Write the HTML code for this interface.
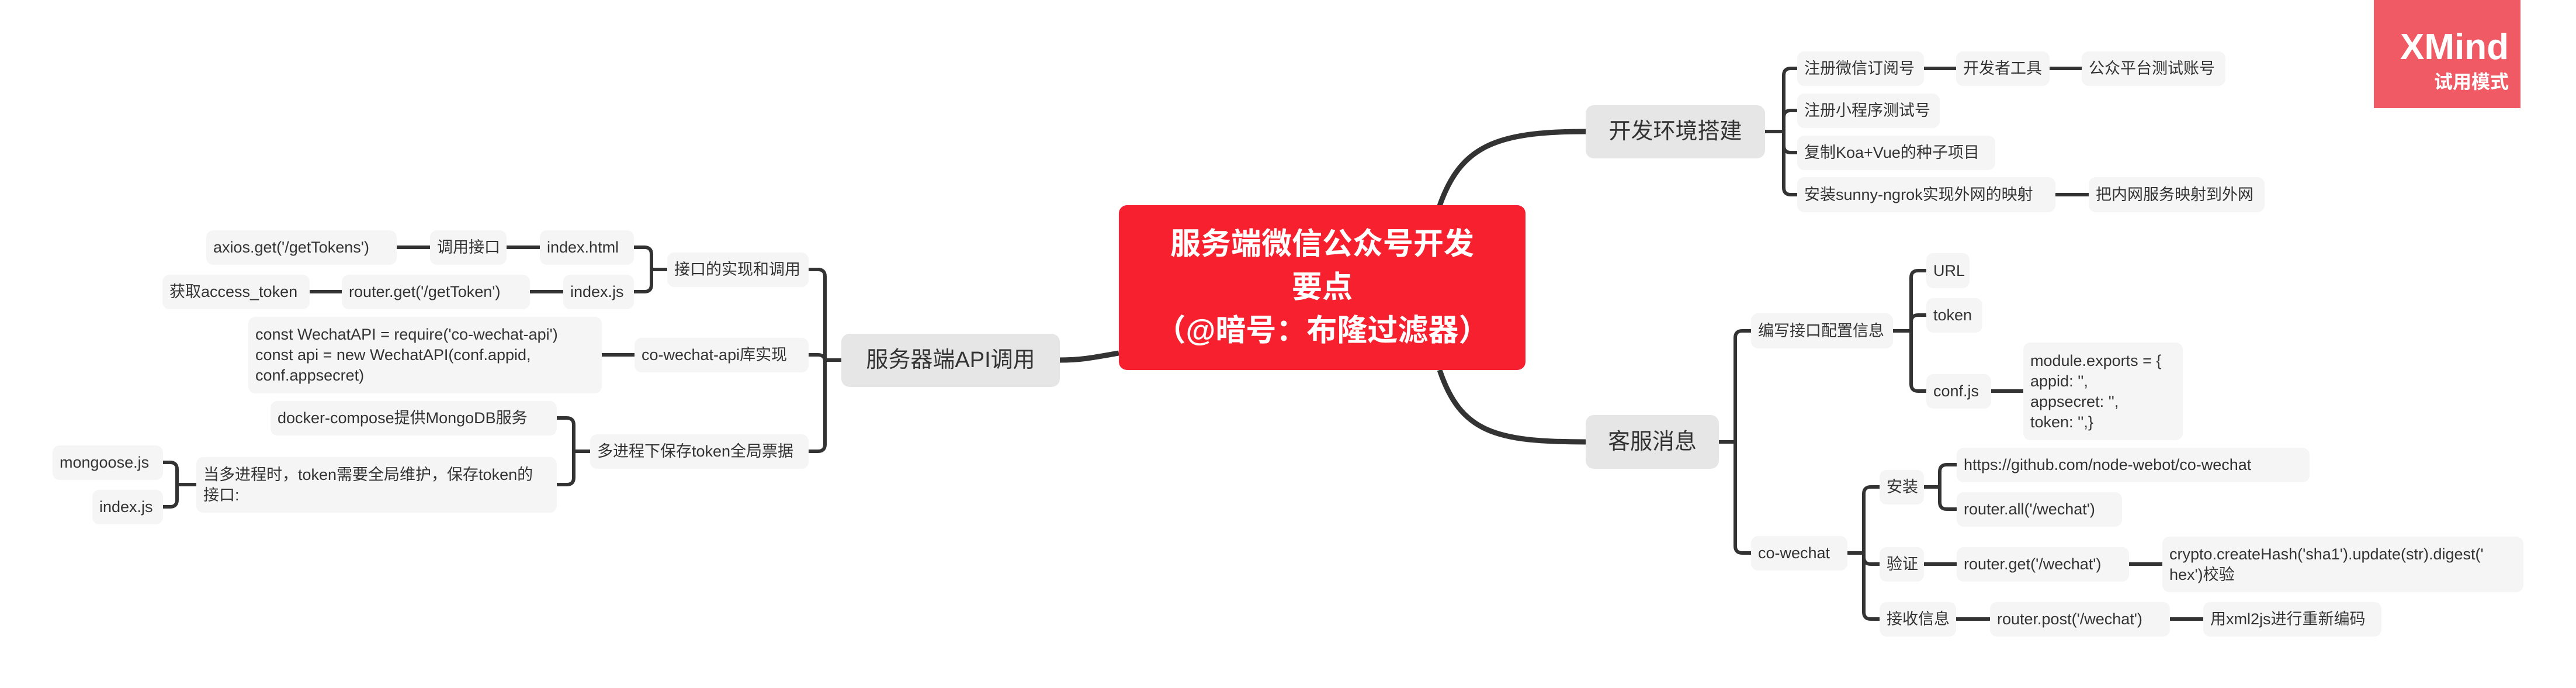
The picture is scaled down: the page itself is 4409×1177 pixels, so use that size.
<!DOCTYPE html>
<html><head><meta charset="utf-8">
<style>
html,body{margin:0;padding:0;background:#fff;}
body{width:4409px;height:1177px;position:relative;overflow:hidden;font-family:"Liberation Sans","Noto Sans CJK SC",sans-serif;}
.n{position:absolute;box-sizing:border-box;background:#f5f5f5;border-radius:12px;color:#333;font-size:27px;display:flex;align-items:center;padding-left:12px;white-space:nowrap;line-height:35px;}
.m{background:#e6e6e6;font-size:38px;border-radius:14px;justify-content:center;padding:0;}
.ml{white-space:normal;align-items:center;}
svg{position:absolute;left:0;top:0;}
</style></head><body>
<svg width="4409" height="1177" fill="none" stroke="#333" stroke-linecap="butt">
<g stroke-width="9">
<path d="M2464 352 C2500 250,2560 225,2714 225"/>
<path d="M2464 633 C2500 740,2560 756,2714 756"/>
<path d="M1915 604 C1870 612,1850 616,1814 616"/>
</g>
<g stroke-width="6">
<!-- 开发环境搭建 -->
<path d="M3021 225 H3053"/>
<path d="M3053 225 V129 Q3053 117 3065 117 H3076"/>
<path d="M3053 225 V201 Q3053 189 3065 189 H3076"/>
<path d="M3053 225 V249 Q3053 261 3065 261 H3076"/>
<path d="M3053 225 V321 Q3053 333 3065 333 H3076"/>
<path d="M3293 117 H3348 M3508 117 H3563 M3518 333 H3575"/>
<!-- 客服消息 -->
<path d="M2942 756 H2970"/>
<path d="M2970 756 V578 Q2970 566 2982 566 H2997"/>
<path d="M2970 756 V934 Q2970 946 2982 946 H2997"/>
<path d="M3240 566 H3271"/>
<path d="M3271 566 V475 Q3271 463 3283 463 H3297"/>
<path d="M3271 566 V551 Q3271 539 3283 539 H3297"/>
<path d="M3271 566 V657 Q3271 669 3283 669 H3297"/>
<path d="M3408 669 H3463"/>
<path d="M3162 946 H3190"/>
<path d="M3190 946 V845 Q3190 833 3202 833 H3217"/>
<path d="M3190 946 V953 Q3190 965 3202 965 H3217"/>
<path d="M3190 946 V1047 Q3190 1059 3202 1059 H3217"/>
<path d="M3293 833 H3320"/>
<path d="M3320 833 V807 Q3320 795 3332 795 H3349"/>
<path d="M3320 833 V859 Q3320 871 3332 871 H3349"/>
<path d="M3293 965 H3349 M3644 965 H3701 M3348 1059 H3406 M3714 1059 H3771"/>
<!-- 服务器端API调用 -->
<path d="M1440 616 H1412"/>
<path d="M1412 616 V473 Q1412 461 1400 461 H1384"/>
<path d="M1412 616 V619 Q1412 607 1400 607 H1384"/>
<path d="M1412 616 V760 Q1412 772 1400 772 H1384"/>
<path d="M1142 461 H1115"/>
<path d="M1115 461 V435 Q1115 423 1103 423 H1085"/>
<path d="M1115 461 V487 Q1115 499 1103 499 H1085"/>
<path d="M924 423 H867 M736 423 H679 M964 499 H907 M585 499 H530"/>
<path d="M1086 607 H1030"/>
<path d="M1010 772 H982"/>
<path d="M982 772 V727 Q982 715 970 715 H953"/>
<path d="M982 772 V817 Q982 829 970 829 H953"/>
<path d="M336 829 H303"/>
<path d="M303 829 V803 Q303 791 291 791 H279"/>
<path d="M303 829 V855 Q303 867 291 867 H279"/>
</g>
</svg>

<!-- center -->
<div style="position:absolute;left:1915px;top:351px;width:696px;height:282px;background:#f7202f;border-radius:14px;color:#fff;font-weight:bold;font-size:52px;line-height:74px;text-align:center;display:flex;align-items:center;justify-content:center;">
<div>服务端微信公众号开发<br>要点<br>（@暗号：布隆过滤器）</div></div>

<!-- XMind badge -->
<div style="position:absolute;left:4063px;top:0;width:251px;height:185px;background:#f05a64;color:#fff;font-weight:bold;text-align:right;box-sizing:border-box;padding-right:20px;">
<div style="font-size:62px;line-height:62px;margin-top:50px;">XMind</div>
<div style="font-size:32px;line-height:40px;margin-top:8px;">试用模式</div></div>

<!-- right top -->
<div class="n m" style="left:2714px;top:180px;width:307px;height:91px;">开发环境搭建</div>
<div class="n" style="left:3076px;top:88px;width:217px;height:59px;">注册微信订阅号</div>
<div class="n" style="left:3348px;top:88px;width:160px;height:59px;">开发者工具</div>
<div class="n" style="left:3563px;top:88px;width:246px;height:59px;">公众平台测试账号</div>
<div class="n" style="left:3076px;top:160px;width:244px;height:59px;">注册小程序测试号</div>
<div class="n" style="left:3076px;top:232px;width:339px;height:59px;">复制Koa+Vue的种子项目</div>
<div class="n" style="left:3076px;top:303px;width:442px;height:60px;">安装sunny-ngrok实现外网的映射</div>
<div class="n" style="left:3575px;top:303px;width:301px;height:60px;">把内网服务映射到外网</div>

<!-- right bottom -->
<div class="n m" style="left:2714px;top:710px;width:228px;height:92px;">客服消息</div>
<div class="n" style="left:2997px;top:536px;width:243px;height:60px;">编写接口配置信息</div>
<div class="n" style="left:3297px;top:433px;width:74px;height:60px;">URL</div>
<div class="n" style="left:3297px;top:510px;width:96px;height:59px;">token</div>
<div class="n" style="left:3297px;top:640px;width:111px;height:59px;">conf.js</div>
<div class="n ml" style="left:3463px;top:586px;width:273px;height:167px;"><div>module.exports = {<br>appid: '',<br>appsecret: '',<br>token: '',}</div></div>
<div class="n" style="left:2997px;top:917px;width:165px;height:59px;">co-wechat</div>
<div class="n" style="left:3217px;top:804px;width:76px;height:59px;">安装</div>
<div class="n" style="left:3349px;top:766px;width:604px;height:59px;">https://github.com/node-webot/co-wechat</div>
<div class="n" style="left:3349px;top:842px;width:283px;height:59px;">router.all('/wechat')</div>
<div class="n" style="left:3217px;top:936px;width:76px;height:59px;">验证</div>
<div class="n" style="left:3349px;top:936px;width:295px;height:59px;">router.get('/wechat')</div>
<div class="n ml" style="left:3701px;top:918px;width:618px;height:95px;"><div>crypto.createHash('sha1').update(str).digest('<br>hex')校验</div></div>
<div class="n" style="left:3217px;top:1030px;width:131px;height:59px;">接收信息</div>
<div class="n" style="left:3406px;top:1030px;width:308px;height:59px;">router.post('/wechat')</div>
<div class="n" style="left:3771px;top:1030px;width:305px;height:59px;">用xml2js进行重新编码</div>

<!-- left -->
<div class="n m" style="left:1440px;top:571px;width:374px;height:91px;">服务器端API调用</div>
<div class="n" style="left:1142px;top:432px;width:242px;height:59px;">接口的实现和调用</div>
<div class="n" style="left:1086px;top:578px;width:298px;height:59px;">co-wechat-api库实现</div>
<div class="n" style="left:1010px;top:743px;width:374px;height:59px;">多进程下保存token全局票据</div>
<div class="n" style="left:924px;top:394px;width:161px;height:59px;">index.html</div>
<div class="n" style="left:736px;top:394px;width:131px;height:59px;">调用接口</div>
<div class="n" style="left:353px;top:394px;width:326px;height:59px;">axios.get('/getTokens')</div>
<div class="n" style="left:964px;top:470px;width:121px;height:59px;">index.js</div>
<div class="n" style="left:585px;top:470px;width:322px;height:59px;">router.get('/getToken')</div>
<div class="n" style="left:278px;top:470px;width:252px;height:59px;">获取access_token</div>
<div class="n ml" style="left:425px;top:542px;width:605px;height:131px;"><div>const WechatAPI = require('co-wechat-api')<br>const api = new WechatAPI(conf.appid,<br>conf.appsecret)</div></div>
<div class="n" style="left:463px;top:686px;width:490px;height:59px;">docker-compose提供MongoDB服务</div>
<div class="n ml" style="left:336px;top:782px;width:617px;height:95px;"><div>当多进程时，token需要全局维护，保存token的<br>接口:</div></div>
<div class="n" style="left:90px;top:762px;width:189px;height:59px;">mongoose.js</div>
<div class="n" style="left:158px;top:838px;width:121px;height:59px;">index.js</div>
</body></html>
